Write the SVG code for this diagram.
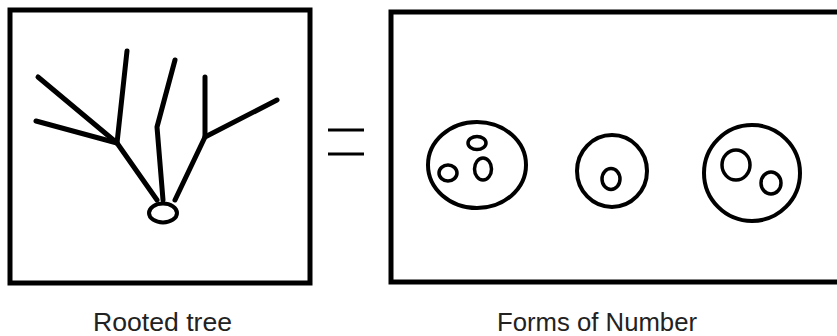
<svg xmlns="http://www.w3.org/2000/svg" width="837" height="336" viewBox="0 0 837 336">
<style>
.box{fill:none;stroke:#000;stroke-width:5}
.br{fill:none;stroke:#000;stroke-width:5;stroke-linecap:round;stroke-linejoin:round}
.c{fill:none;stroke:#000;stroke-width:4}
.s{fill:none;stroke:#000;stroke-width:3.5}
.lbl{font-family:"Liberation Sans",Arial,sans-serif;font-size:25px;fill:#222}
</style>
<rect width="837" height="336" fill="#fff"/>
<g id="tree-box">
<rect class="box" x="10" y="10" width="300" height="273"/>
</g>
<g id="tree">
<polyline class="br" points="38,77 117,143"/>
<polyline class="br" points="36,121 117,143"/>
<polyline class="br" points="127,51 117,143 157,200"/>
<polyline class="br" points="175,60 157,127 163,200"/>
<polyline class="br" points="205,77 205,137 175,200"/>
<polyline class="br" points="277,100 205,137"/>
<ellipse class="c" cx="163" cy="213" rx="14" ry="9.5"/>
</g>
<g id="equals">
<line x1="328" y1="130" x2="364" y2="130" stroke="#000" stroke-width="3"/>
<line x1="328" y1="154" x2="364" y2="154" stroke="#000" stroke-width="3"/>
</g>
<g id="forms-box">
<rect class="box" x="391" y="12" width="460" height="270"/>
</g>
<g id="form1">
<ellipse class="c" cx="477" cy="165" rx="49" ry="43"/>
<ellipse class="s" cx="477" cy="143" rx="9" ry="6.5"/>
<ellipse class="s" cx="448" cy="173" rx="9" ry="8"/>
<ellipse class="s" cx="483" cy="169" rx="8.5" ry="11"/>
</g>
<g id="form2">
<ellipse class="c" cx="612" cy="171" rx="35" ry="36"/>
<ellipse class="s" cx="611" cy="179" rx="9" ry="10.5"/>
</g>
<g id="form3">
<ellipse class="c" cx="752" cy="173" rx="48" ry="48"/>
<ellipse class="s" cx="736" cy="165" rx="14" ry="15"/>
<ellipse class="s" cx="771" cy="183" rx="10" ry="11"/>
</g>
<g id="labels">
<text class="lbl" x="93" y="331" textLength="139" lengthAdjust="spacingAndGlyphs">Rooted tree</text>
<text class="lbl" x="497" y="331" textLength="200" lengthAdjust="spacingAndGlyphs">Forms of Number</text>
</g>
</svg>
